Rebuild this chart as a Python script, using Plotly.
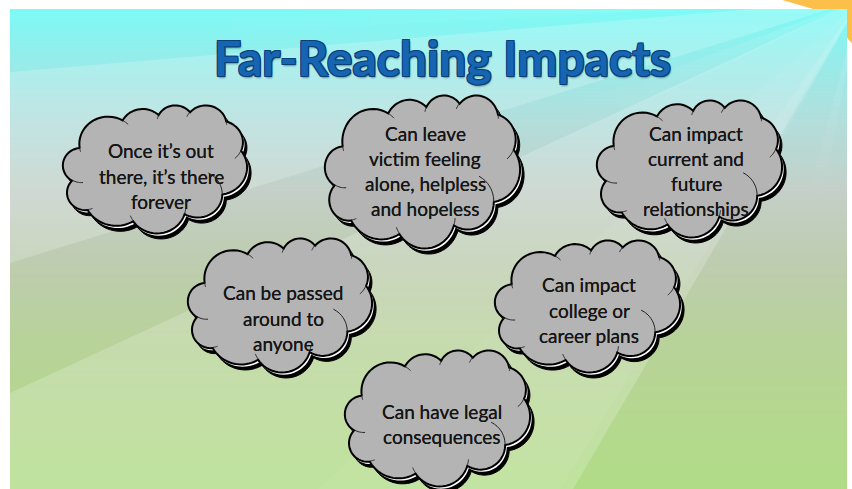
import math
import numpy as np
import plotly.graph_objects as go

# ---------------- content ----------------
TITLE = "Far-Reaching Impacts"
CLOUD_TEXTS = [
    ["Once it’s out", "there, it’s there", "forever"],
    ["Can leave", "victim feeling", "alone, helpless", "and hopeless"],
    ["Can impact", "current and", "future", "relationships"],
    ["Can be passed", "around to", "anyone"],
    ["Can impact", "college or", "career plans"],
    ["Can have legal", "consequences"],
]

# ---------------- layout (pixel coords) ----------------
W, H = 852, 489
SL, ST, SR, SB = 10, 9, 847, 489          # slide rectangle
CLOUD_BOXES = [(63, 105, 184, 128), (325, 95, 195, 153), (597, 100, 185, 137),
               (188, 238, 184, 134), (495, 240, 185, 132), (345, 350, 185, 136)]
TEXT_CENTERS = [(161, 176), (425, 171), (696, 171), (283, 318), (589, 310), (442, 424)]
LINE_STEP = 25.3

GRAD_Y = [9, 60, 120, 190, 260, 340, 420, 489]
GRAD_C = [(124, 250, 246), (150, 236, 234), (178, 222, 220), (196, 208, 200),
          (190, 204, 176), (184, 210, 154), (180, 216, 142), (176, 220, 134)]

RAY_ORIGIN = (860, 0)
# full-length light wedges
RAYS = [((10, 72), (10, 263), 0.20), ((10, 393), (573, 489), 0.20),
        ((520, 307), (560, 489), 0.05)]
# short fading rays near the corner: (target1, target2, opacity, length)
FADE_RAYS = [((10, 22), (10, 44), 0.12, 700), ((600, 95), (600, 125), 0.14, 330),
             ((740, 170), (765, 170), 0.16, 260), ((815, 170), (828, 170), 0.14, 220)]

# ---------------- cloud geometry (DrawingML preset "cloud") ----------------
CLOUD_START = (3900, 14370)
CLOUD_ARCS = [(6753, 9190, -11429249, 7426832), (5333, 7267, -8646143, 5396714),
              (4365, 5945, -8748475, 5983381), (4857, 6595, -7859164, 7034504),
              (5333, 7273, -4722533, 6541615), (6775, 9220, -2776035, 7816140),
              (5785, 7867, 37501, 6842000), (6752, 9215, 1347096, 6910353),
              (7720, 10543, 3974558, 4542661), (4360, 5918, -16496525, 8804134),
              (4345, 5945, -14809710, 9151131)]
CLOUD_INNER = [((4693, 26177), (4345, 5945, 5204520, 1585770)),
               ((6928, 34899), (4360, 5918, 4416628, 686848)),
               ((16478, 39090), (6752, 9215, 8257449, 844866)),
               ((28827, 34751), (6752, 9215, 387196, 959901)),
               ((34129, 22954), (5785, 7867, -4217541, 4255042)),
               ((41798, 15354), (5333, 7273, 1819082, 1665090)),
               ((38324, 5426), (4857, 6595, -824660, 891534)),
               ((29078, 3952), (4857, 6595, -8950887, 1091722)),
               ((22141, 4720), (4365, 5945, -9809656, 1061181)),
               ((14000, 5192), (6753, 9190, -4002417, 739161)),
               ((4127, 15789), (6753, 9190, 9459261, 711490))]


def arc_pts(p, wR, hR, st, sw, n=22):
    st = math.radians(st / 60000.0)
    sw = math.radians(sw / 60000.0)

    def ept(th):
        r = 1.0 / math.sqrt((math.cos(th) / wR) ** 2 + (math.sin(th) / hR) ** 2)
        return r * math.cos(th), r * math.sin(th)

    ex, ey = ept(st)
    cx, cy = p[0] - ex, p[1] - ey
    out = []
    for i in range(1, n + 1):
        dx, dy = ept(st + sw * i / n)
        out.append((cx + dx, cy + dy))
    return out


def outline_pts():
    pts = [CLOUD_START]
    for a in CLOUD_ARCS:
        pts += arc_pts(pts[-1], *a)
    return pts


OUTLINE = outline_pts()
INNER = [[s] + arc_pts(s, *a, n=10) for s, a in CLOUD_INNER]


def to_px(pts, box, dx=0.0, dy=0.0):
    x0, y0, w, h = box
    return [(x0 + px / 43200.0 * w + dx, y0 + py / 43200.0 * h + dy) for px, py in pts]


def path_str(pts, close=True):
    s = "M " + " L ".join(f"{x:.2f},{y:.2f}" for x, y in pts)
    return s + (" Z" if close else "")


fig = go.Figure()

# background gradient
edges = np.linspace(ST, SB, 241)
centers = (edges[:-1] + edges[1:]) / 2
stops = [[(y - ST) / (SB - ST), f"rgb{c}"] for y, c in zip(GRAD_Y, GRAD_C)]
fig.add_trace(go.Heatmap(x=[SL, SR], y=edges, z=[[v] for v in centers],
                         colorscale=stops, zmin=ST, zmax=SB, showscale=False,
                         hoverinfo="skip"))

shapes = []
ox, oy = RAY_ORIGIN


def unit(p):
    dx, dy = p[0] - ox, p[1] - oy
    d = math.hypot(dx, dy)
    return dx / d, dy / d


for p1, p2, op in RAYS:
    f1 = (ox + 3 * (p1[0] - ox), oy + 3 * (p1[1] - oy))
    f2 = (ox + 3 * (p2[0] - ox), oy + 3 * (p2[1] - oy))
    shapes.append(dict(type="path", xref="x", yref="y", layer="above",
                       path=path_str([(ox, oy), f1, f2]),
                       fillcolor=f"rgba(255,255,255,{op})", line=dict(width=0)))

K = 10
for p1, p2, op, length in FADE_RAYS:
    u1, u2 = unit(p1), unit(p2)
    for k in range(K):
        r0, r1 = length * k / K, length * (k + 1) / K
        quad = [(ox + u1[0] * r0, oy + u1[1] * r0), (ox + u1[0] * r1, oy + u1[1] * r1),
                (ox + u2[0] * r1, oy + u2[1] * r1), (ox + u2[0] * r0, oy + u2[1] * r0)]
        a = op * (1 - (k + 0.5) / K)
        shapes.append(dict(type="path", xref="x", yref="y", layer="above",
                           path=path_str(quad),
                           fillcolor=f"rgba(255,255,255,{a:.3f})", line=dict(width=0)))

# clouds
for box in CLOUD_BOXES:
    shapes.append(dict(type="path", xref="x", yref="y", layer="above",
                       path=path_str(to_px(OUTLINE, box, 4, 5.5)),
                       fillcolor="#000000", line=dict(color="#000000", width=1)))
    shapes.append(dict(type="path", xref="x", yref="y", layer="above",
                       path=path_str(to_px(OUTLINE, box, 1.6, 2.2)),
                       fillcolor="#ffffff", line=dict(width=0)))
    shapes.append(dict(type="path", xref="x", yref="y", layer="above",
                       path=path_str(to_px(OUTLINE, box)),
                       fillcolor="#b4b4b4", line=dict(color="#000000", width=2)))
    inner = " ".join(path_str(to_px(seg, box), close=False) for seg in INNER)
    shapes.append(dict(type="path", xref="x", yref="y", layer="above",
                       path=inner, fillcolor="rgba(0,0,0,0)",
                       line=dict(color="#222222", width=1)))


# orange corner (outside slide), paper coordinates
def pp(px, py):
    return ((px - SL) / (SR - SL), (SB - py) / (SB - ST))


orange = [(784, 0), (798, 3), (812, 9), (847, 9), (847, 38), (852, 48), (852, 0)]
shapes.append(dict(type="path", xref="paper", yref="paper", layer="above",
                   path=path_str([pp(*q) for q in orange]),
                   fillcolor="#fbbf4a", line=dict(width=0)))

annotations = [dict(x=442, y=57, xref="x", yref="y", text=TITLE, showarrow=False,
                    xanchor="center", yanchor="middle",
                    font=dict(family="Lato", size=48, color="#1565b2", weight=700,
                              shadow="1px 1px 0 #0b3f78, -1px -1px 0 #0b3f78, 1px -1px 0 #0b3f78, -1px 1px 0 #0b3f78, 1px 2px 2px rgba(0,0,0,0.4)"))]

for lines, (cx, cy) in zip(CLOUD_TEXTS, TEXT_CENTERS):
    n = len(lines)
    for i, ln in enumerate(lines):
        y = cy + (i - (n - 1) / 2) * LINE_STEP
        annotations.append(dict(x=cx, y=y, xref="x", yref="y", text=ln, showarrow=False,
                                xanchor="center", yanchor="middle",
                                font=dict(family="Lato", size=19, color="#161616",
                                          shadow="0 0 0.6px #161616")))

fig.update_layout(
    width=W, height=H, margin=dict(l=SL, r=W - SR, t=ST, b=H - SB, pad=0),
    paper_bgcolor="#ffffff", plot_bgcolor="#ffffff",
    xaxis=dict(range=[SL, SR], visible=False, fixedrange=True),
    yaxis=dict(range=[SB, ST], visible=False, fixedrange=True),
    shapes=shapes, annotations=annotations, showlegend=False,
)
fig.write_html("out.html", config={"displayModeBar": False},
               post_script="document.body.style.margin='0';document.body.style.padding='0';")
